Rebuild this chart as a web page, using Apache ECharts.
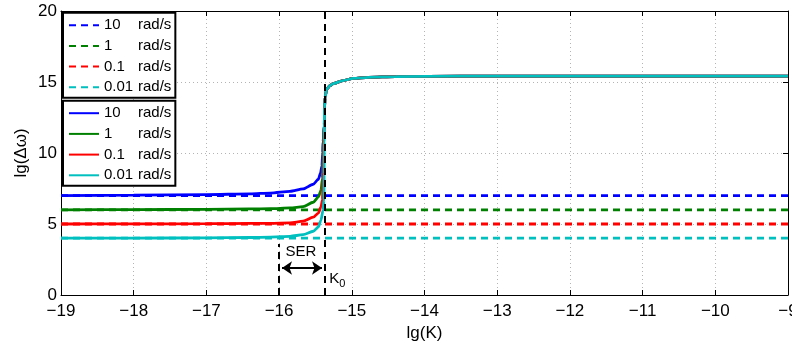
<!DOCTYPE html>
<html>
<head>
<meta charset="utf-8">
<script src="https://cdn.jsdelivr.net/npm/echarts@6/dist/echarts.min.js"></script>
<style>
  html, body { margin: 0; padding: 0; background: #fff; }
  #chart { width: 792px; height: 347px; }
</style>
</head>
<body>
<div id="chart"></div>
<script>
const FONT = "Liberation Sans, Arial, sans-serif";

// legend labels (rad/s)
const rates = ["10", "1", "0.1", "0.01"];
const colors = ["#0000ff", "#008000", "#ff0000", "#00bfbf"];

// dashed reference levels lg(Δω)
const dashedLevels = [7, 6, 5, 4];

// solid curves: [lg(K), lg(Δω)], lower part per rate
const solid10 = [[-19, 7.0], [-18, 7.03], [-17, 7.07], [-16.4, 7.12], [-16.12, 7.18], [-15.85, 7.3], [-15.67, 7.47], [-15.53, 7.8], [-15.46, 8.15], [-15.43, 8.6], [-15.411, 9.1], [-15.4, 10], [-15.395, 10.8]];
const solid1 = [[-19, 6.0], [-18, 6.01], [-17, 6.03], [-16.4, 6.06], [-16.12, 6.08], [-15.85, 6.13], [-15.67, 6.22], [-15.53, 6.53], [-15.46, 6.9], [-15.424, 7.37], [-15.404, 8.2], [-15.397, 9.5], [-15.392, 10.8]];
const solid01 = [[-19, 5.0], [-18, 5.01], [-17, 5.02], [-16.4, 5.04], [-16.12, 5.05], [-15.85, 5.08], [-15.67, 5.2], [-15.53, 5.48], [-15.46, 5.77], [-15.424, 6.2], [-15.404, 6.7], [-15.395, 8], [-15.39, 10.8]];
const solid001 = [[-19, 4.0], [-18, 4.01], [-17, 4.02], [-16.4, 4.05], [-16.12, 4.08], [-15.85, 4.13], [-15.67, 4.25], [-15.53, 4.49], [-15.46, 4.79], [-15.424, 5.26], [-15.397, 5.96], [-15.383, 6.67], [-15.381, 8.5], [-15.3795, 10.8]];
// shared upper branch (all rates overlap here)
const upperBranch = [[-15.378, 12], [-15.375, 13.2], [-15.368, 13.9], [-15.346, 14.5], [-15.3, 14.75], [-15.256, 14.88], [-15.12, 15.1], [-14.98, 15.25], [-14.77, 15.33], [-14.4, 15.38], [-13.5, 15.41], [-12, 15.42], [-9, 15.42]];

// annotations
const K0 = -15.37;
const SER_LEFT = -16;
const SER_TOP = 3.6;
const ARROW_Y = 1.9;
const SER_TEXT = [-15.70, 3.04];
const K0_TEXT = [-15.2, 1.15];

const xTicks = { min: -19, max: -9, interval: 1 };
const yTicks = { min: 0, max: 20, interval: 5 };

const solidData = [solid10, solid1, solid01, solid001];
const dashedNames = rates.map((r) => "d" + r);
const solidNames = rates.map((r) => "s" + r);

const chart = echarts.init(document.getElementById("chart"), null, { renderer: "canvas" });

const minus = (v) => String(v).replace("-", "\u2212");

function legendBox(names, top) {
  return {
    orient: "vertical",
    left: 63,
    top: top,
    data: names,
    itemWidth: 30,
    itemHeight: 14,
    itemGap: 5.7,
    padding: [5, 4, 3, 5],
    borderColor: "#000",
    borderWidth: 2,
    borderRadius: 0,
    backgroundColor: "#fff",
    selectedMode: false,
    itemStyle: { color: "rgba(0,0,0,0)", borderWidth: 0, borderColor: "rgba(0,0,0,0)" },
    formatter: (name) => `{n|${name.slice(1)}}{u|rad/s}`,
    textStyle: {
      fontFamily: FONT,
      fontSize: 15,
      color: "#000",
      rich: {
        n: { width: 34, fontSize: 15, fontFamily: FONT, color: "#000" },
        u: { fontSize: 15, fontFamily: FONT, color: "#000" },
      },
    },
  };
}

const dashedSeries = dashedLevels.map((lvl, i) => ({
  name: dashedNames[i],
  type: "line",
  data: [[xTicks.min, lvl], [xTicks.max, lvl]],
  symbol: "none",
  lineStyle: { color: colors[i], width: 2.8, type: [7, 5] },
  itemStyle: { color: colors[i] },
  z: 2,
}));

const solidSeries = solidData.map((lower, i) => ({
  name: solidNames[i],
  type: "line",
  data: lower.concat(upperBranch),
  symbol: "none",
  smooth: 0.25,
  smoothMonotone: "x",
  lineStyle: { color: colors[i], width: 2.8 },
  itemStyle: { color: colors[i] },
  z: 3,
}));

const axisBase = {
  axisLine: { show: true, onZero: false, lineStyle: { color: "#000", width: 1 } },
  axisTick: { show: true, inside: true, length: 5, lineStyle: { color: "#000" } },
};

chart.setOption({
  animation: false,
  backgroundColor: "#fff",
  grid: { left: 61, right: 4, top: 11, bottom: 52, containLabel: false, outerBoundsMode: "none" },
  legend: [legendBox(dashedNames, 12.7), legendBox(solidNames, 100.7)],
  xAxis: [
    {
      type: "value",
      ...xTicks,
      ...axisBase,
      name: "lg(K)",
      nameLocation: "middle",
      nameGap: 29,
      nameTextStyle: { fontFamily: FONT, fontSize: 17, color: "#000" },
      axisLabel: { fontFamily: FONT, fontSize: 17, color: "#000", margin: 8, formatter: minus },
      splitLine: { show: true, lineStyle: { color: "#b4b4b4", type: [1, 3], width: 1 } },
    },
    {
      type: "value",
      position: "top",
      ...xTicks,
      ...axisBase,
      axisLabel: { show: false },
      splitLine: { show: false },
    },
  ],
  yAxis: [
    {
      type: "value",
      ...yTicks,
      ...axisBase,
      name: "lg(\u0394\u03c9)",
      nameLocation: "middle",
      nameGap: 31,
      nameMoveOverlap: false,
      nameTextStyle: { fontFamily: FONT, fontSize: 17, color: "#000" },
      axisLabel: { fontFamily: FONT, fontSize: 17, color: "#000", margin: 4 },
      splitLine: { show: true, lineStyle: { color: "#b4b4b4", type: [1, 3], width: 1 } },
    },
    {
      type: "value",
      position: "right",
      ...yTicks,
      ...axisBase,
      axisLabel: { show: false },
      splitLine: { show: false },
    },
  ],
  series: [
    ...dashedSeries,
    ...solidSeries,
    {
      name: "guides",
      type: "line",
      data: [],
      z: 4,
      markLine: {
        silent: true,
        symbol: "none",
        label: { show: false },
        lineStyle: { color: "#000", width: 2, type: [7, 5] },
        data: [
          { xAxis: K0 },
          [{ coord: [SER_LEFT, 0] }, { coord: [SER_LEFT, SER_TOP] }],
        ],
      },
    },
    {
      name: "arrow",
      type: "line",
      data: [],
      z: 5,
      markLine: {
        silent: true,
        symbol: ["arrow", "arrow"],
        symbolSize: [10, 10],
        label: { show: false },
        lineStyle: { color: "#000", width: 2, type: "solid" },
        data: [[{ coord: [SER_LEFT + 0.04, ARROW_Y] }, { coord: [K0 - 0.04, ARROW_Y] }]],
      },
      markPoint: {
        silent: true,
        symbol: "circle",
        symbolSize: 1,
        itemStyle: { color: "rgba(0,0,0,0)" },
        data: [
          {
            coord: SER_TEXT,
            label: { show: true, position: "inside", formatter: "SER", fontFamily: FONT, fontSize: 15, color: "#000" },
          },
          {
            coord: K0_TEXT,
            label: {
              show: true,
              position: "inside",
              formatter: "{k|K}{s|0}",
              rich: {
                k: { fontFamily: FONT, fontSize: 15, color: "#000" },
                s: { fontFamily: FONT, fontSize: 11, color: "#000", padding: [10, 0, 0, 0] },
              },
            },
          },
        ],
      },
    },
  ],
});
</script>
</body>
</html>
